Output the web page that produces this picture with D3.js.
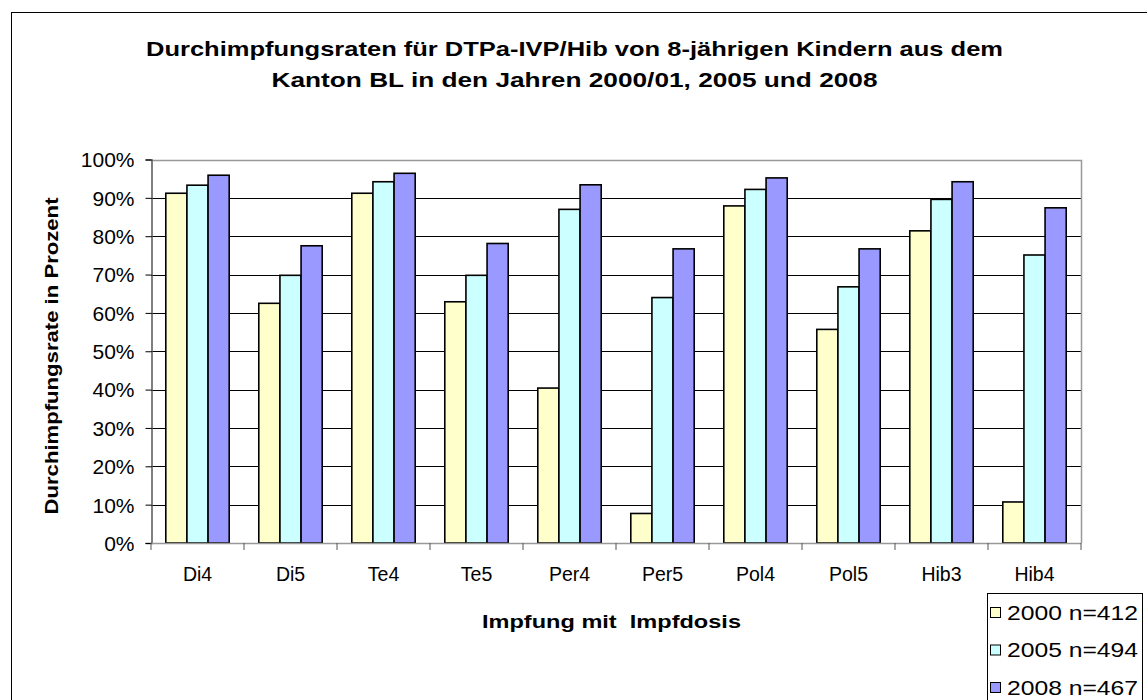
<!DOCTYPE html>
<html><head><meta charset="utf-8">
<script src="https://cdn.jsdelivr.net/npm/d3@7"></script>
<style>body{margin:0;background:#fff}svg{display:block}text{font-family:"Liberation Sans",Arial,sans-serif}</style>
</head><body><svg id="c" width="1147" height="700"></svg>
<script>
const categories = ["Di4","Di5","Te4","Te5","Per4","Per5","Pol4","Pol5","Hib3","Hib4"];
const seriesNames = ["2000 n=412","2005 n=494","2008 n=467"];
const values2000 = [91.2,62.5,91.2,62.9,40.4,7.7,87.9,55.7,81.4,10.7];
const values2005 = [93.3,69.8,94.2,69.8,87.0,64.0,92.2,66.8,89.6,75.1];
const values2008 = [95.9,77.5,96.4,78.1,93.4,76.7,95.2,76.7,94.2,87.4];
const yTicks = [0,10,20,30,40,50,60,70,80,90,100];
const colors = ["#FFFFCC","#CCFFFF","#9999FF"];
const titleLines = ["Durchimpfungsraten für DTPa-IVP/Hib von 8-jährigen Kindern aus dem","Kanton BL in den Jahren 2000/01, 2005 und 2008"];

const series = [values2000, values2005, values2008];
const svg = d3.select("#c");
svg.append("rect").attr("x",11.5).attr("y",12.5).attr("width",1200).attr("height",800)
  .attr("fill","#fff").attr("stroke","#000").attr("stroke-width",1);

const L=151, R=1081, T=159.5, B=543;
const x = d3.scaleBand().domain(categories).range([L,R]);
const xs = d3.scaleBand().domain(d3.range(3)).range([0,x.bandwidth()]).paddingOuter(0.7);
const y = d3.scaleLinear().domain([0,100]).range([B,T]);

svg.append("g").selectAll("line").data(yTicks.filter(d=>d>0&&d<100)).join("line")
  .attr("x1",L).attr("x2",R).attr("y1",d=>Math.round(y(d))+0.5).attr("y2",d=>Math.round(y(d))+0.5)
  .attr("stroke","#000").attr("stroke-width",1);
svg.append("path").attr("d",`M${L},${Math.round(T)+0.5}H${R+0.5}V${B}`).attr("fill","none").attr("stroke","#999").attr("stroke-width",1.5);

series.forEach((s,i)=>{
  svg.append("g").selectAll("rect").data(s).join("rect")
    .attr("x",(d,j)=>x(categories[j])+xs(i))
    .attr("y",d=>y(d))
    .attr("width",xs.bandwidth())
    .attr("height",d=>B-y(d))
    .attr("fill",colors[i]).attr("stroke","#000").attr("stroke-width",1.6);
});

const yAxis = d3.axisLeft(y).tickValues(yTicks).tickFormat(d=>d+"%").tickSize(6).tickPadding(11);
const ga = svg.append("g").attr("transform",`translate(${L+0.5},0)`).call(yAxis);
ga.select(".domain").attr("stroke","#555").attr("stroke-width",1.5);
ga.selectAll(".tick line").attr("stroke","#000");
ga.selectAll("text").attr("font-size",21).attr("fill","#000").attr("dy","0.35em");

const xAxis = d3.axisBottom(x).tickSize(0).tickPadding(24);
const gx = svg.append("g").attr("transform",`translate(0,${B})`).call(xAxis);
gx.select(".domain").attr("stroke","#999").attr("stroke-width",1.5);
gx.selectAll("text").attr("font-size",19.5).attr("fill","#000");
svg.append("g").selectAll("line").data(d3.range(categories.length+1)).join("line")
  .attr("x1",d=>L+d*x.bandwidth()).attr("x2",d=>L+d*x.bandwidth())
  .attr("y1",B).attr("y2",B+7).attr("stroke","#555").attr("stroke-width",1);

const titleWidths = [857, 606];
svg.append("g").selectAll("text").data(titleLines).join("text")
  .attr("x",574.5).attr("y",(d,i)=>56+i*31).attr("text-anchor","middle")
  .attr("font-size",21).attr("font-weight","bold")
  .attr("textLength",(d,i)=>titleWidths[i]).attr("lengthAdjust","spacingAndGlyphs").text(d=>d);

svg.append("text").attr("transform",`translate(58,356) rotate(-90)`).attr("text-anchor","middle")
  .attr("font-size",19).attr("font-weight","bold")
  .attr("textLength",317).attr("lengthAdjust","spacingAndGlyphs").text("Durchimpfungsrate in Prozent");
svg.append("text").attr("x",611.5).attr("y",628).attr("text-anchor","middle")
  .attr("font-size",18).attr("font-weight","bold").style("white-space","pre")
  .attr("textLength",259).attr("lengthAdjust","spacingAndGlyphs").text("Impfung mit  Impfdosis");

const lg = svg.append("g");
lg.append("rect").attr("x",987.5).attr("y",593.5).attr("width",155).attr("height",120)
  .attr("fill","#fff").attr("stroke","#000").attr("stroke-width",1);
seriesNames.forEach((n,i)=>{
  const cy = 612+i*37.5;
  lg.append("rect").attr("x",990.5).attr("y",cy-4.5).attr("width",10).attr("height",10)
    .attr("fill",colors[i]).attr("stroke","#000").attr("stroke-width",1);
  lg.append("text").attr("x",1007).attr("y",cy).attr("dy","0.36em").attr("font-size",21)
    .attr("textLength",131).attr("lengthAdjust","spacingAndGlyphs").text(n);
});
</script></body></html>
